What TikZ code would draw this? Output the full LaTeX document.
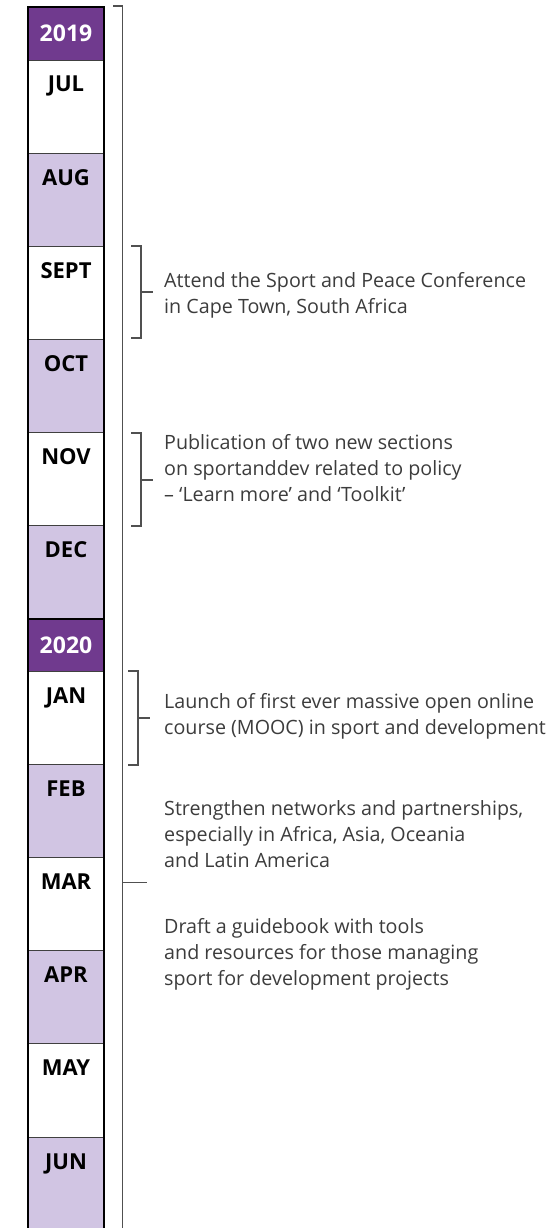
\documentclass[tikz,border=0pt]{standalone}
\usepackage{fontspec}
\setmainfont{Open Sans}
\definecolor{yearpurple}{RGB}{112,58,142}
\definecolor{lightlav}{RGB}{209,197,227}
\definecolor{txtgray}{RGB}{60,60,60}
\definecolor{brgray}{RGB}{80,80,80}
\begin{document}
\begin{tikzpicture}[x=1pt,y=-1pt,
  cellwhite/.style={fill=white},
  celllav/.style={fill=lightlav},
  cellyear/.style={fill=yearpurple},
  monthlbl/.style={anchor=base,font=\fontsize{22}{22}\selectfont\bfseries,text=black,inner sep=0pt},
  yearlbl/.style={anchor=base,font=\fontsize{23}{23}\selectfont\bfseries,text=white,inner sep=0pt},
  sepline/.style={draw=black!75,line width=0.9pt},
  bracket/.style={draw=brgray,line width=1.2pt},
  evtext/.style={anchor=north west,align=left,inner sep=0pt,text=txtgray,font=\fontsize{19.7}{26.3}\selectfont}
]
\useasboundingbox (0,0) rectangle (549,1228);
% cells
\fill[cellyear] (28,7) rectangle (104,60);
\fill[cellwhite] (28,60) rectangle (104,153);
\fill[celllav] (28,153) rectangle (104,246);
\fill[cellwhite] (28,246) rectangle (104,339);
\fill[celllav] (28,339) rectangle (104,432);
\fill[cellwhite] (28,432) rectangle (104,525);
\fill[celllav] (28,525) rectangle (104,619);
\fill[cellyear] (28,619) rectangle (104,671);
\fill[cellwhite] (28,671) rectangle (104,764);
\fill[celllav] (28,764) rectangle (104,857);
\fill[cellwhite] (28,857) rectangle (104,950);
\fill[celllav] (28,950) rectangle (104,1043);
\fill[cellwhite] (28,1043) rectangle (104,1137);
\fill[celllav] (28,1137) rectangle (104,1228);
% separators
\foreach \yy in {60,153,246,339,432,525,671,764,857,950,1043,1137}
  \draw[sepline] (28,\yy) -- (104,\yy);
\draw[draw=black,line width=1.8pt] (28,619) -- (104,619);
% column border
\draw[draw=black,line width=2pt] (28,1230) -- (28,7) -- (104,7) -- (104,1230);
% labels
\node[yearlbl] (y19) at (66,42) {2019};
\node[monthlbl] (jul) at (66,92) {JUL};
\node[monthlbl] (aug) at (66,185) {AUG};
\node[monthlbl] (sep) at (66,278) {SEPT};
\node[monthlbl] (oct) at (66,371) {OCT};
\node[monthlbl] (nov) at (66,464) {NOV};
\node[monthlbl] (dec) at (66,557) {DEC};
\node[yearlbl] (y20) at (66,653.5) {2020};
\node[monthlbl] (jan) at (66,703) {JAN};
\node[monthlbl] (feb) at (66,796) {FEB};
\node[monthlbl] (mar) at (66,889) {MAR};
\node[monthlbl] (apr) at (66,982) {APR};
\node[monthlbl] (may) at (66,1075) {MAY};
\node[monthlbl] (jun) at (66,1169) {JUN};
% big bracket
\coordinate (bbtop) at (113,6);
\coordinate (bbcorner) at (122.5,6);
\coordinate (bbbot) at (122.5,1230);
\coordinate (bbmid) at (122.5,882.5);
\coordinate (bbtip) at (147,882.5);
\draw[bracket] (bbtop) -- (bbcorner) -- (bbbot);
\draw[bracket] (bbmid) -- (bbtip);
% small brackets
\draw[bracket] (131,246) -- (141,246) -- (141,338) -- (131,338);
\draw[bracket] (141,292) -- (153,292);
\draw[bracket] (131,433) -- (141,433) -- (141,526) -- (131,526);
\draw[bracket] (141,480) -- (153,480);
\draw[bracket] (128,671) -- (138,671) -- (138,765) -- (128,765);
\draw[bracket] (138,718) -- (150,718);
% texts
\node[evtext] (t1) at (164,272) {Attend the Sport and Peace Conference\\in Cape Town, South Africa};
\node[evtext] (t2) at (164,434) {Publication of two new sections\\on sportanddev related to policy\\– ‘Learn more’ and ‘Toolkit’};
\node[evtext] (t3) at (164,693) {Launch of first ever massive open online\\course (MOOC) in sport and development};
\node[evtext] (t4) at (164,800) {Strengthen networks and partnerships,\\especially in Africa, Asia, Oceania\\and Latin America};
\node[evtext] (t5) at (164,918) {Draft a guidebook with tools\\and resources for those managing\\sport for development projects};
\end{tikzpicture}
\end{document}
